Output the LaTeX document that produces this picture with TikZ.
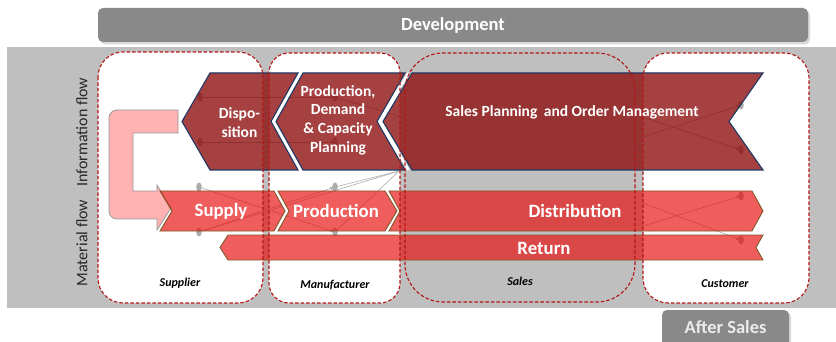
\documentclass[tikz,border=0pt]{standalone}
\usepackage{fontspec}
\setmainfont{Carlito}
\usetikzlibrary{arrows.meta}
\definecolor{bgGray}{RGB}{191,191,191}
\definecolor{barGray}{RGB}{137,137,137}
\definecolor{dashRed}{RGB}{180,22,22}
\definecolor{infoRed}{RGB}{140,12,12}
\definecolor{navyLine}{RGB}{31,56,100}
\definecolor{matRed}{RGB}{232,10,10}
\definecolor{brownLine}{RGB}{130,88,40}
\definecolor{pinkFill}{RGB}{255,178,178}
\definecolor{netGray}{RGB}{172,172,172}
\begin{document}
\begin{tikzpicture}[x=1pt,y=-1pt,
  bar/.style={fill=barGray, rounded corners=5pt},
  barshadow/.style={fill=black, opacity=0.15, rounded corners=5pt},
  bartext/.style={text=white, font=\bfseries\fontsize{18.5}{20}\selectfont, inner sep=0pt},
  zone/.style={draw=dashRed, line width=1.1pt, dash pattern=on 3.5pt off 2pt},
  infochev/.style={fill=infoRed, fill opacity=0.78, draw=navyLine, line width=1.1pt},
  matchev/.style={fill=matRed, fill opacity=0.66, draw=brownLine, line width=0.9pt},
  pinkarrow/.style={fill=pinkFill, draw=black!40, line width=0.8pt},
  chevtext/.style={text=white, font=\bfseries\fontsize{15.5}{18.7}\selectfont, align=center, inner sep=0pt},
  mattext/.style={text=white, font=\bfseries\fontsize{18.8}{20}\selectfont, inner sep=0pt},
  zonelabel/.style={font=\bfseries\itshape\fontsize{12}{13}\selectfont, inner sep=0pt},
  flowlabel/.style={rotate=90, font=\fontsize{16}{18}\selectfont, text=black!85, inner sep=0pt},
  net/.style={draw=netGray, line width=0.6pt},
  netarrow/.style={net, -{Latex[length=4.5pt,width=3.5pt]}},
  netdot/.style={fill=netGray},
  gapline/.style={draw=white, line width=2.4pt},
]
\useasboundingbox (0,0) rectangle (836,342);
\clip (0,0) rectangle (836,342);
\fill[white] (0,0) rectangle (836,342);

% development bar
\fill[barshadow] (100,10) rectangle (810,44.5);
\fill[bar] (98,8) rectangle (808,42);
\node[bartext] (dev) at (453,25) {Development};

% main gray band
\fill[bgGray] (7,47) rectangle (836,308);

% after sales bar
\fill[barshadow] (664,312) rectangle (791,352);
\fill[bar] (662,310) rectangle (789,352);
\node[bartext, text=white!92!black] (after) at (725.5,327) {After Sales};

% white zones
\fill[white, rounded corners=25pt] (98,52) rectangle (263,303);
\fill[white, rounded corners=20pt] (269,53) rectangle (400,303);
\fill[white, rounded corners=25pt] (643,53) rectangle (809,303);

% faint network lines under the chevrons
\coordinate (i1) at (200,97);
\coordinate (i2) at (200,142);
\coordinate (i3) at (335,97);
\coordinate (i4) at (335,142);
\coordinate (m1) at (199,187);
\coordinate (m2) at (199,232);
\coordinate (m3) at (335,187);
\coordinate (m4) at (335,232);
\coordinate (hub) at (399,171);
\coordinate (c1) at (741,105);
\coordinate (c2) at (741,150);
\coordinate (c3) at (741,196);
\coordinate (c4) at (741,240);
\coordinate (ca) at (643,137);
\coordinate (cb) at (643,117);
\coordinate (cc) at (643,226);
\coordinate (cd) at (643,203);
\coordinate (iq) at (405,118);
\draw[netarrow] (i1) -- (i3);
\draw[netarrow] (i2) -- (i4);
\draw[net] (i3) -- (iq);
\draw[netarrow] (m1) -- (m4);
\draw[netarrow] (m2) -- (m3);
\draw[net] (m3) -- (hub);
\draw[net] (m4) -- (hub);
\draw[net] (m2) -- (hub);
\draw[netarrow] (ca) -- (c1);
\draw[netarrow] (cb) -- (c2);
\draw[netarrow] (cc) -- (c3);
\draw[netarrow] (cd) -- (c4);
\foreach \p in {i1,i2,i3,i4,m1,m2,m3,m4,c1,c2,c3,c4}
  \fill[netdot] (\p) ellipse [x radius=2.8pt, y radius=4.5pt];

% light gaps between chevrons
\draw[gapline] (300.5,73) -- (273.5,121.5) -- (300.5,170);
\draw[gapline] (408.5,73) -- (380,121.5) -- (408.5,170);
\draw[gapline, line width=2pt] (276,191) -- (287,211) -- (276,231);
\draw[gapline, line width=2pt] (387,191) -- (398.5,211) -- (387,231);

% pink return-loop arrow
\draw[pinkarrow] (140,219) [rounded corners=8pt] -- (109,219) -- (109,110) -- (150,110)
  [sharp corners] -- (178,110) -- (178,133) -- (133,133) -- (133,191) -- (157,191)
  -- (157,185) -- (171,208) -- (157,230) -- (157,219) -- cycle;

% information flow chevrons
\draw[infochev] (210,73) -- (298,73) -- (271,121.5) -- (298,170) -- (210,170) -- (182,121.5) -- cycle;
\draw[infochev] (303,73) -- (405,73) -- (377,121.5) -- (405,170) -- (303,170) -- (276,121.5) -- cycle;
\draw[infochev] (412,73) -- (763,73) -- (729,121.5) -- (763,170) -- (412,170) -- (383,121.5) -- cycle;

% material flow chevrons
\draw[matchev] (160,191) -- (274,191) -- (285,211) -- (274,231) -- (160,231) -- (172,211) -- cycle;
\draw[matchev] (278,191) -- (385,191) -- (397,211) -- (385,231) -- (278,231) -- (289,211) -- cycle;
\draw[matchev] (389,191) -- (752,191) -- (763,211) -- (752,231) -- (389,231) -- (400,211) -- cycle;
\draw[matchev] (228,235) -- (763,235) -- (756,247.5) -- (763,260) -- (228,260) -- (220,247.5) -- cycle;

% dashed zones on top
\draw[zone, rounded corners=25pt] (98,52) rectangle (263,303);
\draw[zone, rounded corners=20pt] (269,53) rectangle (400,303);
\draw[zone, rounded corners=38pt] (405,53) rectangle (635,302);
\draw[zone, rounded corners=25pt] (643,53) rectangle (809,303);

% texts
\node[chevtext] (dispo) at (239.5,122.5) {Dispo-\\sition};
\node[chevtext] (pdcp) at (338,120) {Production,\\Demand\\\& Capacity\\Planning};
\node[chevtext] (spom) at (572,112) {Sales Planning\hspace{3pt} and Order Management};
\node[mattext] (supply) at (221,211) {Supply};
\node[mattext] (prod) at (336,211) {Production};
\node[mattext] (distr) at (575,211) {Distribution};
\node[mattext] (ret) at (544,248) {Return};

\node[zonelabel] (supplier) at (180,283) {Supplier};
\node[zonelabel] (manu) at (335,285) {Manufacturer};
\node[zonelabel] (sales) at (520,281) {Sales};
\node[zonelabel] (cust) at (725,284) {Customer};

\node[flowlabel] (infoflow) at (82,132) {Information flow};
\node[flowlabel] (matflow) at (82,243) {Material flow};
\end{tikzpicture}
\end{document}
